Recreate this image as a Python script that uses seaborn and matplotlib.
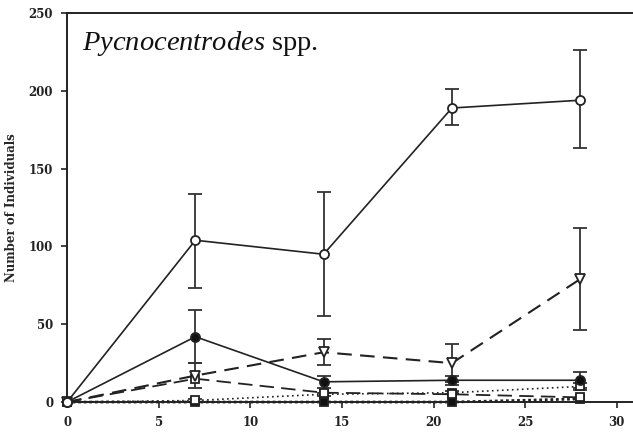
import matplotlib
matplotlib.use("Agg")
import matplotlib.pyplot as plt
import seaborn as sns
import numpy as np
import pandas as pd

sns.set_theme(style="white")
plt.rcParams['font.family'] = ['DejaVu Serif']
plt.rcParams['mathtext.fontset'] = 'custom'
plt.rcParams['mathtext.it'] = 'Liberation Serif:italic'
plt.rcParams['mathtext.rm'] = 'Liberation Serif'

days = [0, 7, 14, 21, 28]

open_circle = [0, 104, 95, 189, 194]
open_circle_lo = [0, 73, 55, 178, 163]
open_circle_hi = [0, 134, 135, 201, 226]

filled_circle = [0, 42, 13, 14, 14]
filled_circle_err = [0, 17, 4, 3, 5]

open_triangle = [0, 17, 32, 25, 79]
open_triangle_err = [0, 8, 8.5, 12, 33]

open_square_dash = [0, 15, 6, 5, 3]

open_square_dot = [0, 1, 5, 6, 10]
open_square_dot_err = [0, 1, 1, 1, 2]

filled_square = [0, 0, 0, 0, 2]

fig = plt.figure(figsize=(6.33, 4.37), dpi=100)
ax = fig.add_axes([0.106, 0.080, 0.893, 0.890])

def draw(y, ls, marker, mfc, lw=1.2, ms=6, dashes=None, z=3):
    df = pd.DataFrame({"day": days, "n": y})
    sns.lineplot(data=df, x="day", y="n", ax=ax, color="#222222", linewidth=lw,
                 marker=marker, markersize=ms, markerfacecolor=mfc,
                 markeredgecolor="#222222", markeredgewidth=1.3, zorder=z)
    line = ax.lines[-1]
    line.set_clip_on(False)
    if dashes is not None:
        line.set_dashes(dashes)
    elif ls != "-":
        line.set_linestyle(ls)

err_kw = dict(fmt="none", ecolor="#333333", elinewidth=1.3, capsize=5, capthick=1.3, zorder=2)

# error bars
lo = np.array(open_circle) - np.array(open_circle_lo)
hi = np.array(open_circle_hi) - np.array(open_circle)
ax.errorbar(days[1:], open_circle[1:], yerr=[lo[1:], hi[1:]], **err_kw)
ax.errorbar(days[1:], filled_circle[1:], yerr=filled_circle_err[1:], **err_kw)
ax.errorbar(days[1:], open_triangle[1:], yerr=open_triangle_err[1:], **err_kw)
ax.errorbar(days[1:], open_square_dot[1:], yerr=open_square_dot_err[1:], **err_kw)

draw(filled_square, ":", "s", "#111111", lw=2.0, ms=6, dashes=(1, 1))
draw(open_square_dot, ":", "s", "white", lw=1.2, ms=6, dashes=(1, 2))
draw(open_square_dash, "--", "s", "white", lw=1.3, ms=6, dashes=(8, 4))
draw(open_triangle, "--", "v", "white", lw=1.5, ms=7, dashes=(7, 4))
draw(filled_circle, "-", "o", "#111111", lw=1.2, ms=6.5)
draw(open_circle, "-", "o", "white", lw=1.2, ms=6.5)

ax.set_xlim(0, 30.85)
ax.set_ylim(0, 250)
ax.set_xticks([0, 5, 10, 15, 20, 25, 30])
ax.set_yticks([0, 50, 100, 150, 200, 250])
ax.tick_params(axis="both", direction="out", length=4, width=1.2, colors="#222222",
               labelsize=8.5, pad=6, bottom=True, left=True)
for lab in ax.get_xticklabels() + ax.get_yticklabels():
    lab.set_fontweight("bold")
ax.set_xlabel("")
ax.set_ylabel("Number of Individuals", fontsize=8.5, fontweight="bold", labelpad=8)

for s in ["left", "bottom", "top"]:
    ax.spines[s].set_color("#222222")
    ax.spines[s].set_linewidth(1.4)
ax.spines["right"].set_visible(False)

ax.text(0.027, 0.905, r"$\mathit{Pycnocentrodes}$ spp.", transform=ax.transAxes,
        fontsize=20.5, family="Liberation Serif", color="#111111", va="baseline")

fig.savefig("out.png", dpi=100)
